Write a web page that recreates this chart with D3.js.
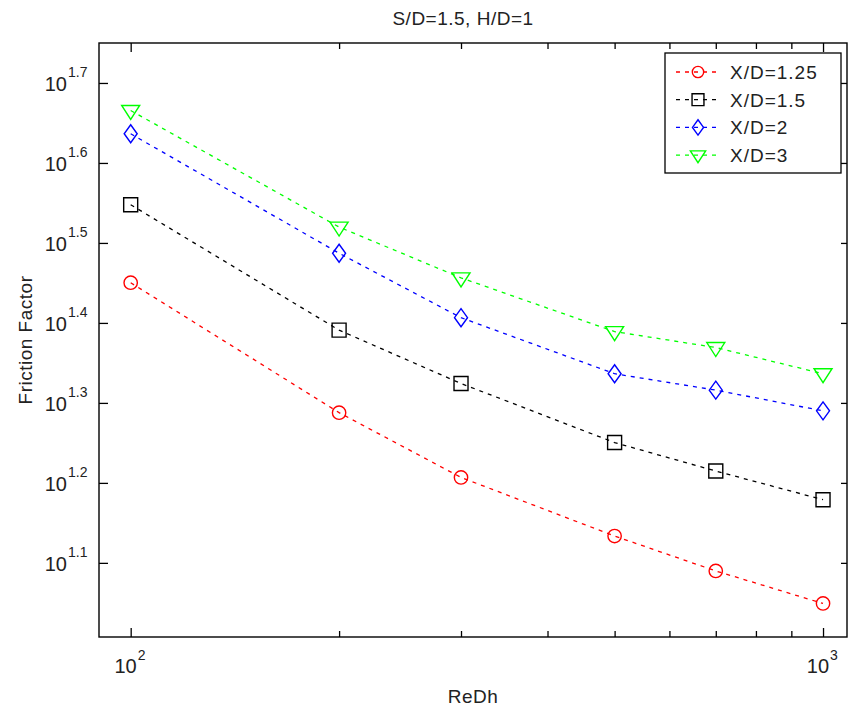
<!DOCTYPE html>
<html>
<head>
<meta charset="utf-8">
<script src="https://cdn.jsdelivr.net/npm/d3@7"></script>
<style>
  body { margin: 0; background: #fff; }
  text { font-family: "Liberation Sans", Arial, sans-serif; fill: #222; }
</style>
</head>
<body>
<div id="chart"></div>
<script>
// data
var reynolds = [100, 200, 300, 500, 700, 1000];
var seriesNames = ["X/D=1.25", "X/D=1.5", "X/D=2", "X/D=3"];
var fricXD125 = [28.2, 19.4, 16.1, 13.6, 12.3, 11.2];
var fricXD15  = [35.3, 24.6, 21.1, 17.8, 16.4, 15.1];
var fricXD2   = [43.3, 30.7, 25.5, 21.7, 20.7, 19.5];
var fricXD3   = [46.3, 33.1, 28.6, 24.5, 23.4, 21.7];
var xMajorTicks = [100, 1000];
var xMinorTicks = [200, 300, 400, 500, 600, 700, 800, 900];
var xMajorExp = ["2", "3"];
var yTickExp = ["1.1", "1.2", "1.3", "1.4", "1.5", "1.6", "1.7"];

var series = [
  {name: seriesNames[0], values: fricXD125, color: "#ff0000", marker: "circle"},
  {name: seriesNames[1], values: fricXD15,  color: "#000000", marker: "square"},
  {name: seriesNames[2], values: fricXD2,   color: "#0000ff", marker: "diamond"},
  {name: seriesNames[3], values: fricXD3,   color: "#00ff00", marker: "triangle"}
];

var W = 848, H = 713;
var box = {left: 99, right: 847, top: 43, bottom: 637};

var svg = d3.select("#chart").append("svg")
  .attr("width", W).attr("height", H);

var x = d3.scaleLog().domain([90, 1083]).range([box.left, box.right]);
var y = d3.scaleLog().domain([10.17, 56.23]).range([box.bottom, box.top]);

// marker paths (k scales them down for the legend)
function markerPath(type, k) {
  k = k || 1;
  if (type === "circle") return d3.symbol(d3.symbolCircle, 140 * k * k)();
  if (type === "square") return "M" + (-7 * k) + "," + (-7 * k) + "h" + (14 * k) + "v" + (14 * k) + "h" + (-14 * k) + "Z";
  if (type === "diamond") return "M0," + (-9 * k) + "L" + (6.5 * k) + ",0L0," + (9 * k) + "L" + (-6.5 * k) + ",0Z";
  return "M" + (-9 * k) + "," + (-5 * k) + "H" + (9 * k) + "L0," + (9 * k) + "Z";
}

// lines
var line = d3.line()
  .x(function(d, i) { return x(reynolds[i]); })
  .y(function(d) { return y(d); });

var plot = svg.append("g");
series.forEach(function(s) {
  plot.append("path")
    .attr("d", line(s.values))
    .attr("fill", "none")
    .attr("stroke", s.color)
    .attr("stroke-width", 1.3)
    .attr("stroke-dasharray", "4,5");
  plot.selectAll(null)
    .data(s.values)
    .enter().append("path")
    .attr("d", markerPath(s.marker))
    .attr("transform", function(d, i) { return "translate(" + x(reynolds[i]) + "," + y(d) + ")"; })
    .attr("fill", "none")
    .attr("stroke", s.color)
    .attr("stroke-width", 1.4);
});

// axes frame with inward ticks
function tickAxis(axisFn, scale, values, size, transform) {
  var g = svg.append("g").attr("transform", transform)
    .call(axisFn(scale).tickValues(values).tickSize(size).tickFormat(""));
  g.select(".domain").remove();
  g.selectAll("line").attr("stroke", "#000").attr("stroke-width", 1.3);
  return g;
}
var yTickVals = yTickExp.map(function(e) { return Math.pow(10, +e); });

tickAxis(d3.axisTop, x, xMajorTicks, 9, "translate(0," + box.bottom + ")");
tickAxis(d3.axisTop, x, xMinorTicks, 6, "translate(0," + box.bottom + ")");
tickAxis(d3.axisBottom, x, xMajorTicks, 9, "translate(0," + box.top + ")");
tickAxis(d3.axisBottom, x, xMinorTicks, 6, "translate(0," + box.top + ")");
tickAxis(d3.axisRight, y, yTickVals, 9, "translate(" + box.left + ",0)");
tickAxis(d3.axisLeft, y, yTickVals, 6, "translate(" + box.right + ",0)");

svg.append("rect")
  .attr("x", box.left).attr("y", box.top)
  .attr("width", box.right - box.left).attr("height", box.bottom - box.top)
  .attr("fill", "none").attr("stroke", "#000").attr("stroke-width", 1.4);

// tick labels: 10 with superscript exponent
xMajorTicks.forEach(function(v, i) {
  var px = x(v);
  svg.append("text").attr("x", px + 6).attr("y", 673)
    .attr("text-anchor", "end").style("font-size", "20px").text("10");
  svg.append("text").attr("x", px + 7).attr("y", 660)
    .style("font-size", "14px").text(xMajorExp[i]);
});
yTickVals.forEach(function(v, i) {
  var py = y(v);
  svg.append("text").attr("x", 67).attr("y", py + 8)
    .attr("text-anchor", "end").style("font-size", "20px").text("10");
  svg.append("text").attr("x", 68).attr("y", py - 6)
    .style("font-size", "14px").text(yTickExp[i]);
});

// titles
svg.append("text").attr("x", 463).attr("y", 25)
  .attr("text-anchor", "middle").style("font-size", "19px").style("letter-spacing", "0.5px")
  .text("S/D=1.5, H/D=1");
svg.append("text").attr("x", 473).attr("y", 703)
  .attr("text-anchor", "middle").style("font-size", "19px").style("letter-spacing", "0.5px")
  .text("ReDh");
svg.append("text").attr("transform", "translate(32,340) rotate(-90)")
  .attr("text-anchor", "middle").style("font-size", "19px").style("letter-spacing", "0.5px")
  .text("Friction Factor");

// legend
var legend = svg.append("g");
legend.append("rect")
  .attr("x", 665).attr("y", 53).attr("width", 176).attr("height", 120)
  .attr("fill", "#fff").attr("stroke", "#000").attr("stroke-width", 1.3);
series.forEach(function(s, i) {
  var ly = 72 + i * 27.7;
  legend.append("line")
    .attr("x1", 676).attr("x2", 716).attr("y1", ly).attr("y2", ly)
    .attr("stroke", s.color).attr("stroke-width", 1.3).attr("stroke-dasharray", "4,5");
  legend.append("path")
    .attr("d", markerPath(s.marker, 0.85))
    .attr("transform", "translate(698," + ly + ")")
    .attr("fill", "none").attr("stroke", s.color).attr("stroke-width", 1.4);
  legend.append("text").attr("x", 730).attr("y", ly + 7)
    .style("font-size", "19px").style("letter-spacing", "1px").text(s.name);
});
</script>
</body>
</html>
